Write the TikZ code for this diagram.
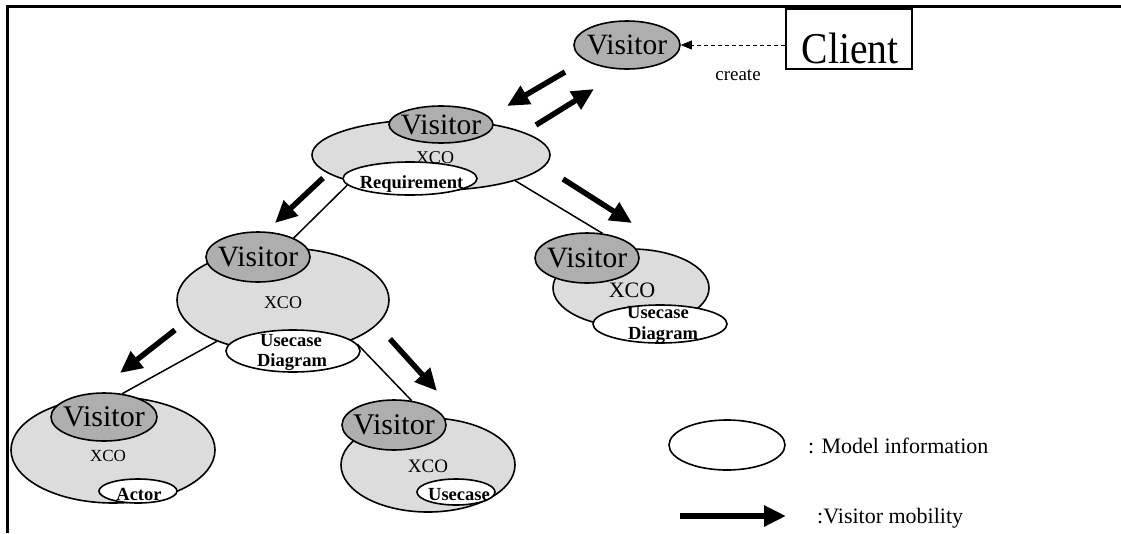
\documentclass[tikz,border=0pt]{standalone}
\usepackage{graphicx}
\usepackage{fontspec}
\setmainfont{Liberation Serif}
\usetikzlibrary{shapes.geometric,arrows.meta}
\definecolor{visgray}{HTML}{AEAEAE}
\definecolor{xcogray}{HTML}{DCDCDC}
\newcommand{\fs}[1]{\fontsize{#1}{#1}\selectfont}
\begin{document}
\begin{tikzpicture}[x=1pt,y=-1pt,
  oval/.style 2 args={ellipse,draw,line width=1.6pt,inner sep=0pt,
    minimum width=#1pt,minimum height=#2pt},
  xco/.style={fill=xcogray},
  visitor/.style={fill=visgray},
  model/.style={fill=white},
  vtext/.style={inner sep=0pt,font=\fs{29.5}},
  xtext/.style={inner sep=0pt,font=\fs{#1}},
  mtext/.style={inner sep=0pt,anchor=base,font=\bfseries\fs{18.5}},
  link/.style={line width=1.5pt},
  move/.style={line width=5.5pt,-{Triangle[length=22pt,width=20pt]}},
]
\useasboundingbox (0,0) rectangle (1121,533);

% outer frame: top and left edges only
\draw[line width=3pt] (7.5,533) -- (7.5,6.5) -- (1121,6.5);

% --- client and the first visitor ---
\node[oval={106}{48},visitor] (v0) at (627,45) {};
\node[vtext] (v0t) at (v0) {Visitor};
\node[draw,line width=1.6pt,minimum width=126pt,minimum height=60pt,inner sep=0pt] (client) at (849,39) {};
\node[inner sep=0pt,anchor=base,font=\fs{44}] (clientt) at (850,63) {\scalebox{0.9}[1]{Client}};
\draw[line width=0.8pt,dash pattern=on 4pt off 3pt,-{Triangle[length=11pt,width=9pt]}]
  (client.west |- v0.east) -- (v0.east);
\node[inner sep=0pt,anchor=base,font=\fs{19}] (create) at (738,80) {create};

% --- level 1: Requirement ---
\node[oval={238}{71},xco] (x1) at (431,155) {};
\node[xtext=18] (x1t) at (435,157.5) {XCO};
\node[oval={104}{37},visitor] (v1) at (441,124.5) {};
\node[vtext] (v1t) at (v1) {Visitor};
\node[oval={134}{33},model] (req) at (410,178.5) {};
\node[mtext] (reqt) at (411.5,188) {Requirement};

% --- level 2, left: Usecase Diagram ---
\node[oval={212}{104},xco] (x2a) at (283,300) {};
\node[xtext=18] (x2at) at (283,303) {XCO};
\node[oval={104}{50},visitor] (v2a) at (258,257) {};
\node[vtext] (v2at) at (v2a) {Visitor};
\node[oval={134}{42},model] (ucd2a) at (293,351) {};
\node[mtext] (ucd2a1) at (291,346.5) {Usecase};
\node[mtext] (ucd2a2) at (292,366.5) {Diagram};

% --- level 2, right: Usecase Diagram ---
\node[oval={156}{78},xco] (x2b) at (631,288) {};
\node[xtext=22] (x2bt) at (632,290.5) {XCO};
\node[oval={104}{50},visitor] (v2b) at (587,258) {};
\node[vtext] (v2bt) at (v2b) {Visitor};
\node[oval={134}{38},model] (ucd2b) at (660,324) {};
\node[mtext] (ucd2b1) at (658,318.5) {Usecase};
\node[mtext] (ucd2b2) at (663,339) {Diagram};

% --- level 3, left: Actor ---
\node[oval={204}{106},xco] (x3a) at (113,450) {};
\node[xtext=17] (x3at) at (108,455.5) {XCO};
\node[oval={106}{48},visitor] (v3a) at (104,417) {};
\node[vtext,font=\fs{30}] (v3at) at (v3a) {Visitor};
\node[oval={78}{24},model] (actor) at (138,491) {};
\node[mtext] (actort) at (139,500) {Actor};

% --- level 3, right: Usecase ---
\node[oval={174}{94},xco] (x3b) at (428,465) {};
\node[xtext=19] (x3bt) at (428,466.5) {XCO};
\node[oval={104}{50},visitor] (v3b) at (394,425) {};
\node[vtext,font=\fs{30}] (v3bt) at (v3b) {Visitor};
\node[oval={78}{26},model] (uc3b) at (456,492) {};
\node[mtext] (uc3bt) at (459,500) {Usecase};

% --- containment links ---
\draw[link] (req.186) -- (v2a.28);
\draw[link] (x1.-17) -- (v2b.58);
\draw[link] (x2a.212) -- (v3a.52);
\draw[link] (ucd2a.6) -- (v3b.54);

% --- visitor mobility arrows ---
\coordinate (m1a) at (565,72);  \coordinate (m1b) at (507,106);
\coordinate (m2a) at (536,125); \coordinate (m2b) at (594,89);
\coordinate (m3a) at (323,178); \coordinate (m3b) at (275,223);
\coordinate (m4a) at (563,179); \coordinate (m4b) at (632,223);
\coordinate (m5a) at (175,330); \coordinate (m5b) at (120,373);
\coordinate (m6a) at (390,339); \coordinate (m6b) at (437,391);
\draw[move] (m1a) -- (m1b);
\draw[move] (m2a) -- (m2b);
\draw[move] (m3a) -- (m3b);
\draw[move] (m4a) -- (m4b);
\draw[move] (m5a) -- (m5b);
\draw[move] (m6a) -- (m6b);

% --- legend ---
\node[oval={116}{50},model] (lg1) at (727,445) {};
\node[inner sep=0pt,anchor=base west,font=\fs{22}] (lg1t) at (808,453) {: Model information};
\coordinate (lg2a) at (680,516);
\coordinate (lg2b) at (786,516);
\draw[move] (lg2a) -- (lg2b);
\node[inner sep=0pt,anchor=base west,font=\fs{22}] (lg2t) at (817,523) {:Visitor mobility};
\end{tikzpicture}
\end{document}
